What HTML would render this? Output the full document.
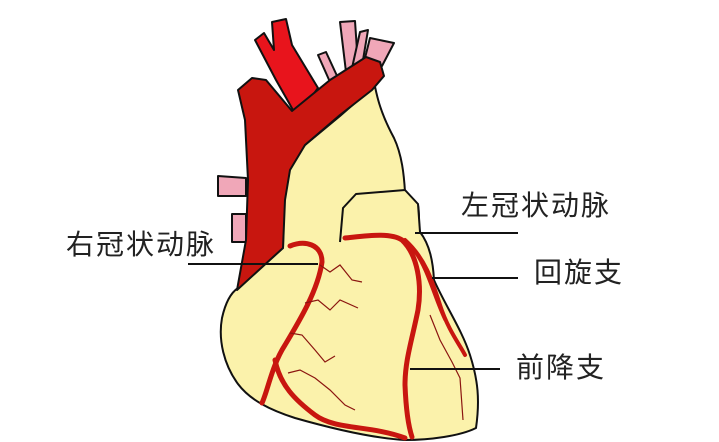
<!DOCTYPE html>
<html><head><meta charset="utf-8"><style>
html,body{margin:0;padding:0;background:#fff;}
svg{display:block}
text{font-family:"Liberation Sans","Noto Sans CJK SC",sans-serif;font-size:28px;fill:#222;letter-spacing:2px}
</style></head><body>
<svg width="719" height="442" viewBox="0 0 719 442" xmlns="http://www.w3.org/2000/svg">
<rect width="719" height="442" fill="#fff"/>
<g stroke="#111" stroke-width="2" stroke-linejoin="round">
<path d="M318 55 L326 52 L338 78 L330 82 Z" fill="#f0a7b8"/>
<path d="M340 22 L355 21 L358 65 L346 72 Z" fill="#f0a7b8"/>
<path d="M360 32 L368 30 L362 66 L352 68 Z" fill="#f0a7b8"/>
<path d="M370 38 L394 43 L382 66 L364 62 Z" fill="#f0a7b8"/>
<path d="M218 176 L246 178 L246 196 L218 196 Z" fill="#f0a7b8"/>
<path d="M232 214 L246 214 L246 242 L232 242 Z" fill="#f0a7b8"/>
<path d="M255 40 L264 33 L274 50 L272 22 L286 19 L292 45 L318 88 L305 106 L293 110 L276 80 Z" fill="#e8141c"/>
<path d="M372 70 C376 95 380 112 394 138 C402 155 404 175 405 192 L418 205 C420 215 418 225 420 232 C430 245 433 262 434 280 C445 305 462 330 470 355 C478 380 480 400 476 428 C460 436 430 440 405 440 C370 438 330 428 295 418 C270 410 250 400 238 384 C224 365 218 340 222 318 C226 300 232 292 238 288 L283 248 L284 190 C286 170 295 155 305 145 L340 116 L372 88 Z" fill="#fbf2ab"/>
<path d="M340 242 L343 208 L356 194 L405 190 L418 204 L420 232" fill="#fbf2ab"/>
<path d="M238 90 L252 78 L266 80 L292 111 L330 80 L366 57 L380 62 L384 76 L372 90 L340 115 L305 145 L290 170 L285 200 L283 248 L237 290 L246 240 L248 180 L245 120 Z" fill="#c8160f"/>
</g>
<g fill="none" stroke="#c8160f" stroke-linecap="round" stroke-linejoin="round">
<path d="M290 246 C305 240 322 244 322 262 C318 290 300 320 285 345 C272 365 268 390 262 403" stroke-width="5"/>
<path d="M275 360 C280 385 295 400 315 415 C335 430 370 425 405 438" stroke-width="5"/>
<path d="M345 238 C365 236 390 232 402 240 C418 255 422 285 418 310 C412 340 405 360 405 385 C406 410 408 425 412 437" stroke-width="5"/>
<path d="M405 240 C425 258 432 280 440 305 C448 330 460 345 465 355" stroke-width="4"/>
<path d="M415 252 C428 270 435 300 445 320" stroke-width="3"/>
</g>
<g fill="none" stroke="#8b1510" stroke-width="1.2">
<path d="M320 265 L330 272 L340 265 L352 280 L362 282"/>
<path d="M305 303 L318 300 L330 310 L340 300 L358 308"/>
<path d="M290 333 L302 335 L315 350 L325 362 L335 356"/>
<path d="M288 373 L300 370 L315 378 L330 390 L345 405 L355 410"/>
<path d="M430 315 L440 340 L452 362 L460 378 L463 420"/>
</g>
<g stroke="#111" stroke-width="2">
<line x1="188" y1="264" x2="318" y2="264"/>
<line x1="415" y1="233" x2="518" y2="233"/>
<line x1="432" y1="278" x2="518" y2="278"/>
<line x1="410" y1="369" x2="500" y2="369"/>
</g>
<text x="66" y="254">右冠状动脉</text>
<text x="461" y="215">左冠状动脉</text>
<text x="534" y="282">回旋支</text>
<text x="516" y="377">前降支</text>
</svg>
</body></html>
